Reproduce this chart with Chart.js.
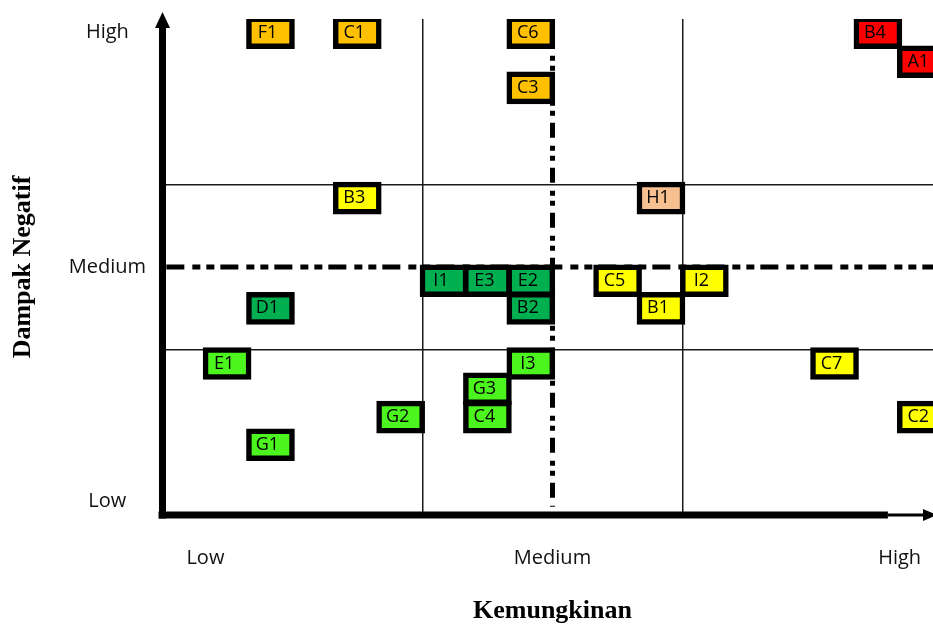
<!DOCTYPE html>
<html lang="id">
<head>
  <meta charset="UTF-8">
  <title>Matriks Risiko</title>
  <script src="https://cdn.jsdelivr.net/npm/chart.js@4.4.1/dist/chart.umd.min.js"></script>
  <style>
    html, body {
      margin: 0;
      padding: 0;
      background: #fff;
      overflow: hidden;
    }
    canvas {
      display: block;
    }
  </style>
</head>
<body>
  <canvas id="chart" width="945" height="627" style="width:945px;height:627px"></canvas>

  <script>
    // Kode risiko dan posisinya (satuan 1/6 dari satu kolom/baris matriks)
    const kode        = ['F1', 'C1', 'C6', 'C3', 'B4', 'A1', 'B3', 'H1', 'I1', 'E3', 'E2', 'D1',
                         'B2', 'C5', 'I2', 'B1', 'E1', 'I3', 'C7', 'G3', 'C4', 'G2', 'C2', 'G1'];
    const kemungkinan = [2.5, 4.5, 8.5, 8.5, 16.5, 17.5, 4.5, 11.5, 6.5, 7.5, 8.5, 2.5,
                         8.5, 10.5, 12.5, 11.5, 1.5, 8.5, 15.5, 7.5, 7.5, 5.5, 17.5, 2.5];
    const dampak      = [17.5, 17.5, 17.5, 15.5, 17.5, 16.45, 11.5, 11.5, 8.5, 8.5, 8.5, 7.5,
                         7.5, 8.5, 8.5, 7.5, 5.5, 5.5, 5.5, 4.58, 3.55, 3.55, 3.55, 2.55];
    const level       = ['tinggi', 'tinggi', 'tinggi', 'tinggi', 'ekstrem', 'ekstrem', 'sedang', 'sedangTinggi',
                         'rendah', 'rendah', 'rendah', 'rendah', 'rendah', 'sedang', 'sedang', 'sedang',
                         'sangatRendah', 'sangatRendah', 'sedang', 'sangatRendah', 'sangatRendah',
                         'sangatRendah', 'sedang', 'sangatRendah'];

    // Label sumbu
    const xTickVals   = [1, 9, 17];
    const xTickLabels = ['Low', 'Medium', 'High'];
    const yTickVals   = [0.5, 9, 17.5];
    const yTickLabels = ['Low', 'Medium', 'High'];
    const gridVals    = [6, 12];   // garis tipis pembagi matriks
    const batasVal    = 9;         // garis putus-putus (batas tengah)

    const warnaLevel = {
      ekstrem: '#FF0000',
      tinggi: '#FFC000',
      sedangTinggi: '#F8C090',
      sedang: '#FFFF00',
      rendah: '#00B050',
      sangatRendah: '#4DF51F'
    };

    const setengahTinggi = 0.58;

    // Plugin untuk teks kotak, garis batas dan panah sumbu
    const kerangka = {
      id: 'kerangka',
      afterDatasetsDraw(chart) {
        const {ctx, scales: {x, y}, chartArea: a} = chart;
        const meta = chart.getDatasetMeta(0);

        ctx.save();
        ctx.font = '18px "Open Sans"';
        ctx.fillStyle = '#000';
        ctx.textAlign = 'center';
        ctx.textBaseline = 'middle';
        meta.data.forEach((bar, i) => {
          ctx.fillText(kode[i], bar.x - 3, (bar.y + bar.base) / 2);
        });

        ctx.strokeStyle = '#000';
        ctx.lineWidth = 5;
        ctx.setLineDash([18, 8, 8, 6, 8, 6]);
        ctx.beginPath();
        ctx.moveTo(x.getPixelForValue(0.1), y.getPixelForValue(batasVal));
        ctx.lineTo(a.right, y.getPixelForValue(batasVal));
        ctx.stroke();

        ctx.setLineDash([15, 8, 5, 5, 5, 7]);
        ctx.beginPath();
        ctx.moveTo(x.getPixelForValue(batasVal), y.getPixelForValue(17.5));
        ctx.lineTo(x.getPixelForValue(batasVal), y.getPixelForValue(0.3));
        ctx.stroke();
        ctx.restore();
      },
      afterDraw(chart) {
        const {ctx, scales: {x}, chartArea: a} = chart;
        const lx = a.left + 0.5;
        ctx.save();
        ctx.strokeStyle = '#000';
        ctx.fillStyle = '#000';

        // sumbu Y + panah
        ctx.lineWidth = 7;
        ctx.beginPath();
        ctx.moveTo(lx, a.bottom + 3.5);
        ctx.lineTo(lx, a.top + 8);
        ctx.stroke();
        ctx.beginPath();
        ctx.moveTo(lx, a.top - 7);
        ctx.lineTo(lx - 7.5, a.top + 9);
        ctx.lineTo(lx + 7.5, a.top + 9);
        ctx.closePath();
        ctx.fill();

        // sumbu X + panah
        const xEnd = x.getPixelForValue(16.73);
        ctx.beginPath();
        ctx.moveTo(a.left - 3.5, a.bottom);
        ctx.lineTo(xEnd, a.bottom);
        ctx.stroke();
        ctx.lineWidth = 3;
        ctx.beginPath();
        ctx.moveTo(xEnd, a.bottom);
        ctx.lineTo(a.right - 16, a.bottom);
        ctx.stroke();
        ctx.beginPath();
        ctx.moveTo(a.right - 6, a.bottom);
        ctx.lineTo(a.right - 20, a.bottom - 6);
        ctx.lineTo(a.right - 20, a.bottom + 6);
        ctx.closePath();
        ctx.fill();
        ctx.restore();
      }
    };

    // ukuran sumbu tetap, tanpa padding label otomatis
    function tanpaPadding(s) {
      s.paddingTop = 0;
      s.paddingBottom = 0;
      s.paddingLeft = 0;
      s.paddingRight = 0;
    }

    Chart.defaults.font.family = '"Open Sans", sans-serif';
    Chart.defaults.color = '#111';

    const ctx = document.getElementById('chart').getContext('2d');
    const chart = new Chart(ctx, {
      type: 'bar',
      data: {
        datasets: [{
          data: kode.map((k, i) => ({x: kemungkinan[i], y: [dampak[i] - setengahTinggi, dampak[i] + setengahTinggi]})),
          backgroundColor: level.map(l => warnaLevel[l]),
          borderColor: '#000',
          borderWidth: 5.5,
          borderSkipped: false,
          barThickness: 48
        }]
      },
      options: {
        responsive: false,
        animation: false,
        devicePixelRatio: 1,
        layout: {padding: {top: 19, right: 2, bottom: 0, left: 0}},
        plugins: {
          legend: {display: false},
          tooltip: {enabled: false}
        },
        scales: {
          x: {
            type: 'linear',
            min: 0,
            max: 18,
            offset: false,
            afterFit: s => { s.height = 112; tanpaPadding(s); },
            afterBuildTicks: s => { s.ticks = xTickVals.concat(gridVals).sort((p, q) => p - q).map(v => ({value: v})); },
            ticks: {
              autoSkip: false,
              maxRotation: 0,
              padding: 31,
              font: {size: 20},
              callback: v => { const i = xTickVals.indexOf(v); return i >= 0 ? xTickLabels[i] : ''; }
            },
            grid: {
              offset: false,
              drawTicks: false,
              tickLength: 0,
              lineWidth: 1.5,
              color: c => gridVals.includes(c.tick && c.tick.value) ? '#1a1a1a' : 'rgba(0,0,0,0)'
            },
            border: {display: false},
            title: {
              display: true,
              text: 'Kemungkinan',
              color: '#000',
              font: {family: '"Liberation Serif", serif', size: 26, weight: 'bold'},
              padding: {top: 0, bottom: 0}
            }
          },
          y: {
            type: 'linear',
            min: 0,
            max: 18,
            afterFit: s => { s.width = 162; tanpaPadding(s); },
            afterBuildTicks: s => { s.ticks = yTickVals.concat(gridVals).sort((p, q) => p - q).map(v => ({value: v})); },
            ticks: {
              autoSkip: false,
              crossAlign: 'center',
              padding: 16,
              font: {size: 20},
              callback: v => { const i = yTickVals.indexOf(v); return i >= 0 ? yTickLabels[i] : ''; }
            },
            grid: {
              drawTicks: false,
              tickLength: 0,
              lineWidth: 1.5,
              color: c => gridVals.includes(c.tick && c.tick.value) ? '#1a1a1a' : 'rgba(0,0,0,0)'
            },
            border: {display: false},
            title: {
              display: true,
              text: 'Dampak Negatif',
              color: '#000',
              font: {family: '"Liberation Serif", serif', size: 26, weight: 'bold'},
              padding: {top: 8, bottom: 0}
            }
          }
        }
      },
      plugins: [kerangka]
    });
  </script>
</body>
</html>
